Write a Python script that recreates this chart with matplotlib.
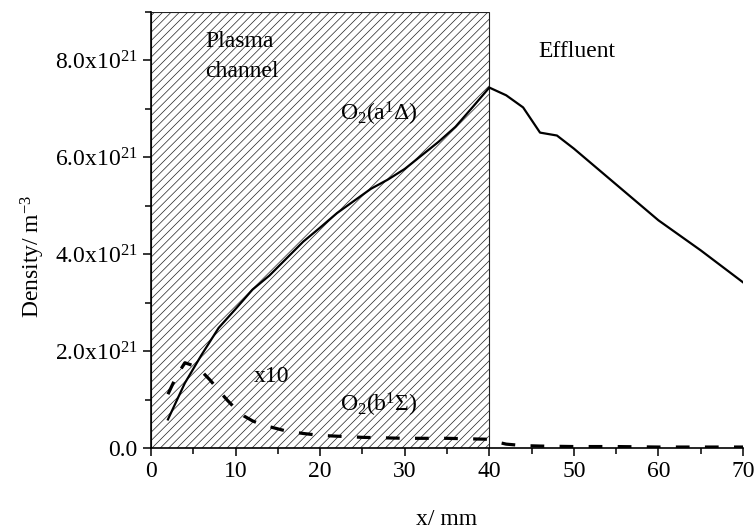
import matplotlib
matplotlib.use("Agg")
import matplotlib.pyplot as plt
from matplotlib.ticker import MultipleLocator, FixedLocator

plt.rcParams['font.family'] = ['Liberation Serif', 'DejaVu Serif']
plt.rcParams['mathtext.fontset'] = 'custom'
plt.rcParams['mathtext.rm'] = 'Liberation Serif'
plt.rcParams['mathtext.it'] = 'Liberation Serif:italic'
plt.rcParams['mathtext.default'] = 'regular'
plt.rcParams['hatch.linewidth'] = 0.5

# O2(a1Delta) density, units of 1e21 m^-3
x_a = [2, 4, 6, 8, 10, 12, 14, 16, 18, 20, 22, 24, 26, 28, 30, 32, 34, 36, 38, 40,
       42, 44, 46, 48, 50, 55, 60, 65, 70]
y_a = [0.59, 1.34, 1.93, 2.48, 2.87, 3.27, 3.56, 3.91, 4.26, 4.55, 4.85, 5.10, 5.35,
       5.54, 5.76, 6.04, 6.32, 6.63, 7.03, 7.44, 7.28, 7.03, 6.51, 6.45, 6.18, 5.44,
       4.70, 4.08, 3.42]

# O2(b1Sigma) density x10, units of 1e21 m^-3
x_b = [2, 3, 4, 5, 6, 7, 8, 9, 10, 11, 12, 13, 14, 16, 18, 20, 25, 30, 35, 40,
       41, 42, 44, 46, 50, 55, 60, 65, 70]
y_b = [1.11, 1.48, 1.76, 1.70, 1.58, 1.40, 1.19, 0.99, 0.81, 0.66, 0.56, 0.49, 0.44,
       0.35, 0.30, 0.26, 0.22, 0.20, 0.20, 0.18, 0.12, 0.08, 0.05, 0.04, 0.03, 0.03,
       0.02, 0.02, 0.02]

unit = 1e21
plasma_region = (0, 40)
y_ticks = [0, 2e21, 4e21, 6e21, 8e21]
y_ticklabels = ['0.0', r'2.0x10$^{21}$', r'4.0x10$^{21}$', r'6.0x10$^{21}$', r'8.0x10$^{21}$']

fig = plt.figure(figsize=(7.54, 5.30), dpi=100)
ax = fig.add_axes([0.2003, 0.1547, 0.7851, 0.8227])

ax.axvspan(plasma_region[0], plasma_region[1], facecolor='none', edgecolor='#222222',
           hatch='////', lw=0.8, zorder=1)

ax.plot(x_a, [v * unit for v in y_a], color='black', lw=1.6, zorder=3)
ax.plot(x_b, [v * unit for v in y_b], color='black', lw=2.3, dashes=(4.3, 4.8), zorder=3)

ax.set_xlim(0, 70)
ax.set_ylim(0, 9e21)
ax.xaxis.set_major_locator(MultipleLocator(10))
ax.xaxis.set_minor_locator(MultipleLocator(5))
ax.yaxis.set_major_locator(FixedLocator(y_ticks))
ax.yaxis.set_minor_locator(MultipleLocator(1e21))
ax.set_yticklabels(y_ticklabels)

for s in ['top', 'right']:
    ax.spines[s].set_visible(False)
for s in ['left', 'bottom']:
    ax.spines[s].set_linewidth(1.2)

ax.tick_params(which='major', direction='out', length=5.5, width=1.1, labelsize=17, pad=4)
ax.tick_params(which='minor', direction='out', length=4, width=1.1)

ax.set_xlabel('x/ mm', fontsize=17, labelpad=19)
ax.set_ylabel(r'Density/ m$^{-3}$', fontsize=17)
ax.yaxis.set_label_coords(-0.176, 0.44)

ax.text(6.4, 8.6 * unit, 'Plasma\nchannel', fontsize=17, va='top', ha='left',
        linespacing=1.55, zorder=4)
ax.text(45.8, 8.18 * unit, 'Effluent', fontsize=17, va='center', ha='left', zorder=4)
ax.text(22.4, 6.9 * unit, r'O$_2$(a$^1$Δ)', fontsize=17, va='center', ha='left', zorder=4)
ax.text(12.1, 1.47 * unit, 'x10', fontsize=17, va='center', ha='left', zorder=4)
ax.text(22.4, 0.88 * unit, r'O$_2$(b$^1$Σ)', fontsize=17, va='center', ha='left', zorder=4)

fig.savefig('out.png', dpi=100)
